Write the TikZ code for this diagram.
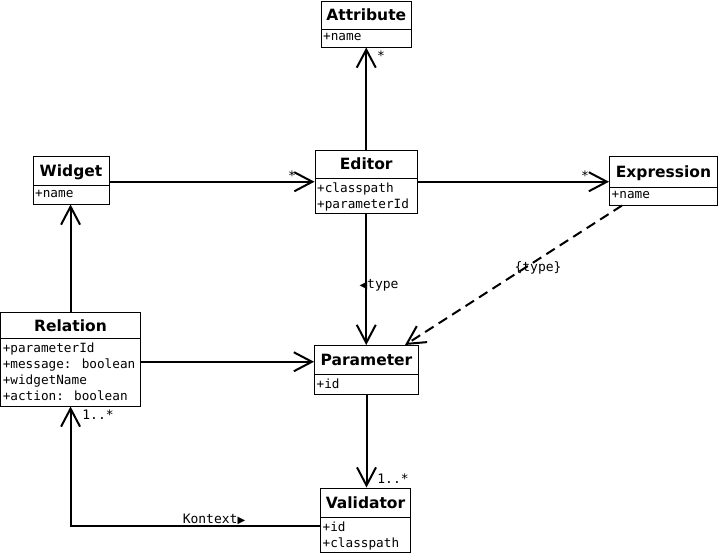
\documentclass[tikz,border=0pt]{standalone}
\usepackage{fontspec}
\usetikzlibrary{arrows.meta,fit}
\newfontfamily\umlmono{DejaVu Sans Mono}
\newfontfamily\umltitle{DejaVu Sans}
\newfontfamily\umlsym{DejaVu Sans}

\tikzset{
  classframe/.style={draw, line width=1pt, inner sep=0pt},
  classtitle/.style={inner sep=0pt, text height=11.3pt, text depth=0pt,
    font=\umltitle\bfseries\fontsize{15.5}{18}\selectfont},
  classattrs/.style={anchor=north west, inner sep=0pt, align=left,
    font=\umlmono\fontsize{12.7}{16}\selectfont},
  assoc/.style={line width=2pt, -{Straight Barb[length=18pt, width=19pt, line width=2pt]}},
  dep/.style={assoc, dash pattern=on 10pt off 6pt},
  rolelabel/.style={inner sep=0pt, font=\umlmono\fontsize{13}{15}\selectfont},
}

% #1 name, #2 left, #3 top, #4 right, #5 bottom, #6 divider, #7 title, #8 attributes
\newcommand\umlclass[8]{%
  \node[classframe, fit={(#2,#3) (#4,#5)}] (#1) {};
  \draw[line width=1pt] (#2,#6) -- (#4,#6);
  \node[classtitle] (#1-title) at ({(#2+#4)/2},{(#3+#6)/2}) {#7};
  \node[classattrs] (#1-attrs) at ({#2+2},{#6+4.5}) {#8};
}

\begin{document}
\begin{tikzpicture}[x=1pt, y=-1pt]
  \useasboundingbox (0,0) rectangle (719,554);

  \umlclass{attribute}{321}{1}{411.5}{47}{29}{Attribute}{+name}
  \umlclass{widget}{33}{156}{109}{204}{185.5}{Widget}{+name}
  \umlclass{editor}{315}{150.5}{417.5}{213}{178}{Editor}{+classpath\\+parameterId}
  \umlclass{expression}{609.5}{156}{717.5}{205}{187}{Expression}{+name}
  \umlclass{relation}{0.6}{312.5}{140.5}{406}{338.5}{Relation}{+parameterId\\+message: boolean\\+widgetName\\+action: boolean}
  \umlclass{parameter}{314.5}{345.5}{418.5}{394}{374}{Parameter}{+id}
  \umlclass{validator}{320.5}{488}{410.5}{552}{517}{Validator}{+id\\+classpath}

  % associations
  \draw[assoc] (editor.north) -- (editor.north |- attribute.south);
  \draw[assoc] (widget.east |- editor.west) -- (editor.west);
  \draw[assoc] (editor.east) -- (editor.east -| expression.west);
  \draw[assoc] (editor.south) -- (editor.south |- parameter.north);
  \draw[dep] ([xshift=13pt]expression.south west) -- ([xshift=-14pt]parameter.north east);
  \draw[assoc] (relation.north) -- (relation.north |- widget.south);
  \draw[assoc] ([yshift=-2.5pt]relation.east) -- ([yshift=-2.5pt]relation.east -| parameter.west);
  \draw[assoc] (parameter.south) -- (parameter.south |- validator.north);
  \draw[assoc] ([yshift=-6pt]validator.west) -| (relation.south);

  % role and multiplicity labels
  \node[rolelabel] (m-attr) at (381,56) {*};
  \node[rolelabel] (m-editor) at (292,176) {*};
  \node[rolelabel] (m-expr) at (585,176) {*};
  \node[rolelabel] (l-type) at (379,285) {{\umlsym\fontsize{10}{10}\selectfont ◀}type};
  \node[rolelabel] (l-dtype) at (538,268) {\{type\}};
  \node[rolelabel] (m-rel) at (98,415) {1..*};
  \node[rolelabel] (m-val) at (393,479) {1..*};
  \node[rolelabel] (l-kontext) at (214,519) {Kontext{\umlsym\fontsize{10}{10}\selectfont ▶}};
\end{tikzpicture}
\end{document}
